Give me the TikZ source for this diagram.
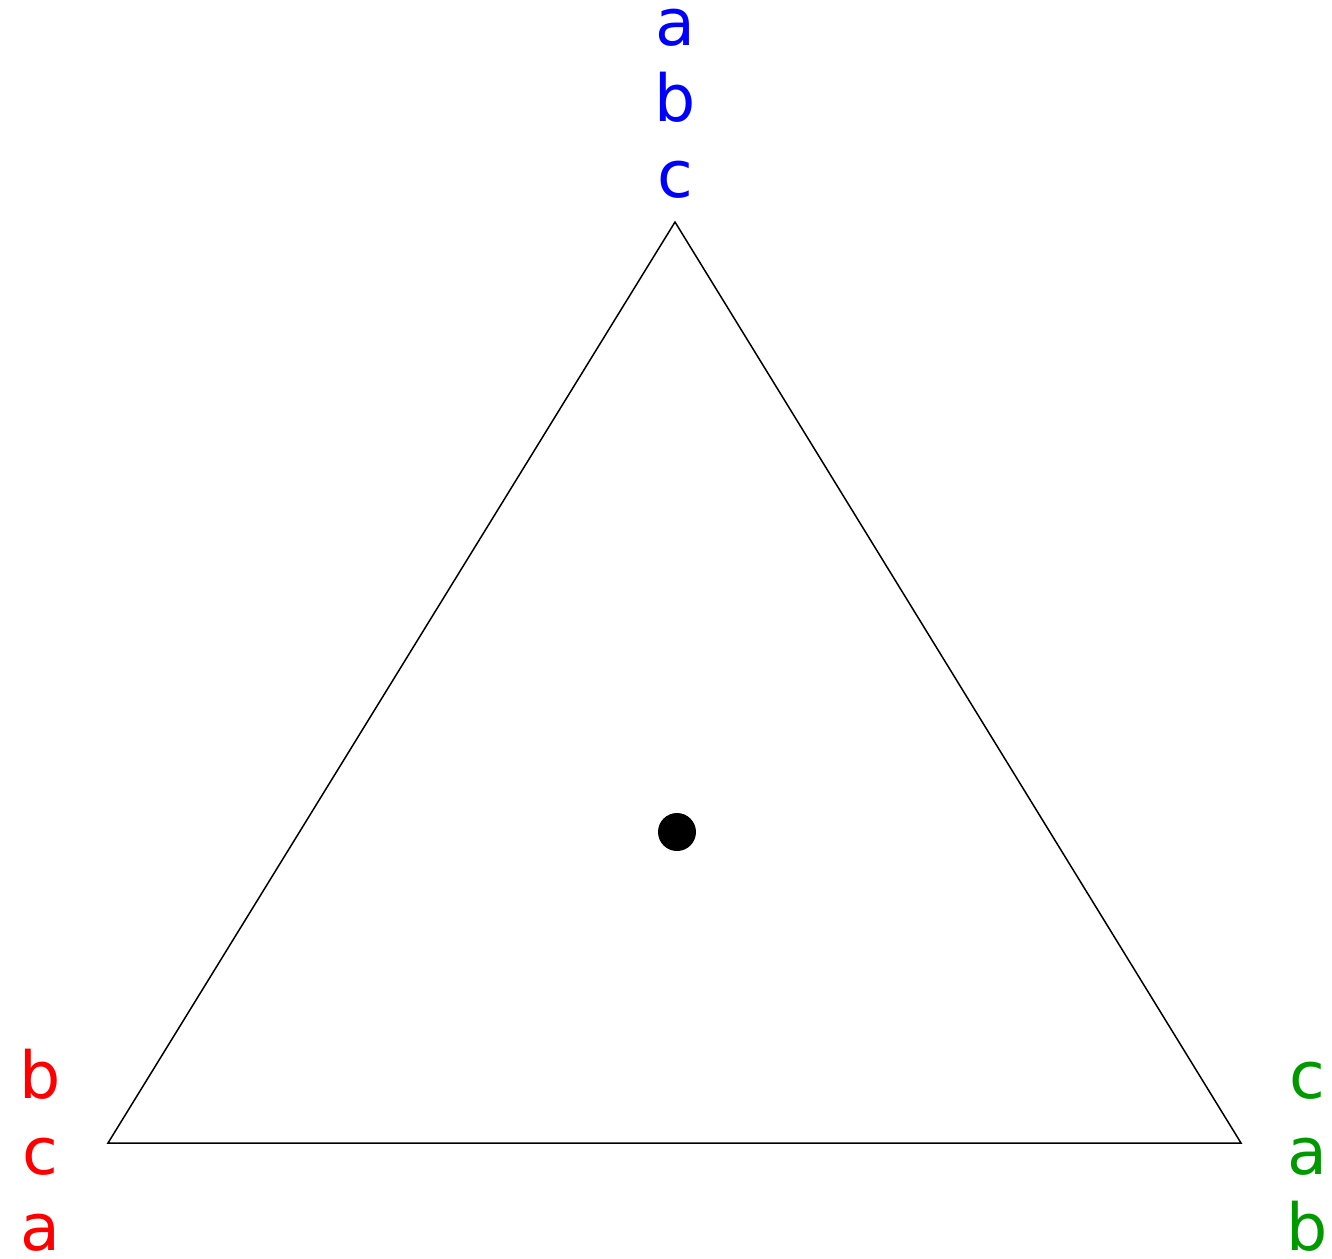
\documentclass[tikz,border=0pt]{standalone}
\usepackage{fontspec}
\setmainfont{DejaVu Sans}
\usepackage{tikz}
\usetikzlibrary{positioning, calc}

\definecolor{topblue}{RGB}{0,0,255}
\definecolor{leftred}{RGB}{255,0,0}
\definecolor{rightgreen}{RGB}{0,153,0}

\begin{document}
\begin{tikzpicture}[
    x=0.02cm, y=-0.02cm,
    edge/.style={draw, line width=0.85pt, line join=miter},
    vlabel/.style={align=center, inner sep=0pt, anchor=base, font=\fontsize{37}{43}\selectfont},
    centre/.style={circle, fill=black, inner sep=0pt, minimum size=0.76cm}
]
    \useasboundingbox (0,0) rectangle (1332,1258);

    % Corners
    \coordinate (top) at (675,222);
    \coordinate (left) at (108,1143);
    \coordinate (right) at (1241,1143);

    % Triangle and centre
    \draw[edge] (top) -- (left) -- (right) -- cycle;
    \node[centre] (mid) at (677,832) {};

    % Orderings
    \node[vlabel, text=topblue] (toplabel) at (675,197) {a\\b\\c};
    \node[vlabel, text=leftred] (leftlabel) at (40,1250) {b\\c\\a};
    \node[vlabel, text=rightgreen] (rightlabel) at (1307,1250) {c\\a\\b};
\end{tikzpicture}
\end{document}
